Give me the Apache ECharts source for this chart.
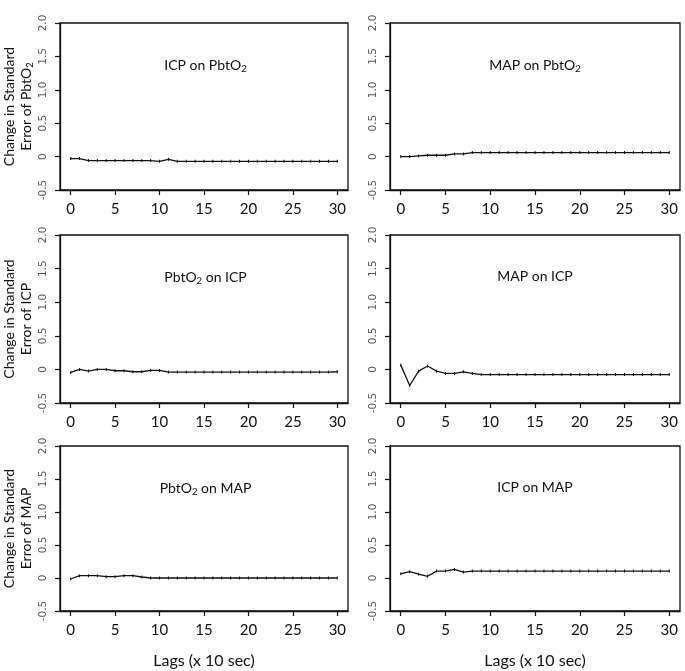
<!DOCTYPE html>
<html>
<head>
<meta charset="utf-8">
<script src="https://cdn.jsdelivr.net/npm/echarts@6/dist/echarts.min.js"></script>
<style>
  html, body { margin: 0; padding: 0; background: #fff; }
  #main { width: 685px; height: 671px; }
</style>
</head>
<body>
<div id="main"></div>
<script>
// lags 0..30 (x 10 sec)
const lags = Array.from({ length: 31 }, (_, i) => i);

const icpOnPbto2 = [-0.03, -0.03, -0.06, -0.06, -0.06, -0.06, -0.06, -0.06, -0.06, -0.06,
  -0.07, -0.04, -0.07, -0.07, -0.07, -0.07, -0.07, -0.07, -0.07, -0.07,
  -0.07, -0.07, -0.07, -0.07, -0.07, -0.07, -0.07, -0.07, -0.07, -0.07, -0.07];
const mapOnPbto2 = [0.0, 0.0, 0.01, 0.02, 0.02, 0.02, 0.04, 0.04, 0.06, 0.06,
  0.06, 0.06, 0.06, 0.06, 0.06, 0.06, 0.06, 0.06, 0.06, 0.06,
  0.06, 0.06, 0.06, 0.06, 0.06, 0.06, 0.06, 0.06, 0.06, 0.06, 0.06];
const pbto2OnIcp = [-0.045, 0.0, -0.025, 0.0, 0.0, -0.02, -0.02, -0.035, -0.035, -0.015,
  -0.015, -0.04, -0.04, -0.04, -0.04, -0.04, -0.04, -0.04, -0.04, -0.04,
  -0.04, -0.04, -0.04, -0.04, -0.04, -0.04, -0.04, -0.04, -0.04, -0.04, -0.035];
const mapOnIcp = [0.067, -0.24, -0.026, 0.05, -0.026, -0.06, -0.06, -0.036, -0.06, -0.077,
  -0.077, -0.077, -0.077, -0.077, -0.077, -0.077, -0.077, -0.077, -0.077, -0.077,
  -0.077, -0.077, -0.077, -0.077, -0.077, -0.077, -0.077, -0.077, -0.077, -0.077, -0.077];
const pbto2OnMap = [-0.015, 0.035, 0.035, 0.035, 0.02, 0.02, 0.035, 0.035, 0.015, 0.0,
  0.0, 0.0, 0.0, 0.0, 0.0, 0.0, 0.0, 0.0, 0.0, 0.0,
  0.0, 0.0, 0.0, 0.0, 0.0, 0.0, 0.0, 0.0, 0.0, 0.0, 0.0];
const icpOnMap = [0.063, 0.095, 0.058, 0.026, 0.105, 0.105, 0.13, 0.09, 0.105, 0.105,
  0.105, 0.105, 0.105, 0.105, 0.105, 0.105, 0.105, 0.105, 0.105, 0.105,
  0.105, 0.105, 0.105, 0.105, 0.105, 0.105, 0.105, 0.105, 0.105, 0.105, 0.105];

const xTicks = [0, 5, 10, 15, 20, 25, 30];
const yTicks = [-0.5, 0, 0.5, 1.0, 1.5, 2.0];

const panelTitles = ['ICP on PbtO{s|2}', 'MAP on PbtO{s|2}', 'PbtO{s|2} on ICP',
  'MAP on ICP', 'PbtO{s|2} on MAP', 'ICP on MAP'];
const yNames = ['Change in Standard\nError of PbtO{s|2}', null,
  'Change in Standard\nError of ICP', null,
  'Change in Standard\nError of MAP', null];
const panelData = [icpOnPbto2, mapOnPbto2, pbto2OnIcp, mapOnIcp, pbto2OnMap, icpOnMap];
const xName = 'Lags (x 10 sec)';

const FONT = 'Lato';
const cols = [{ left: 59, width: 289 }, { left: 390, width: 290 }];
const rows = [{ top: 23, height: 167 }, { top: 235, height: 168 }, { top: 446, height: 165 }];

const sub = { fontSize: 9.5, fontFamily: FONT, color: '#111', padding: [7, 0, 0, 0] };
const axisColor = '#111';

const grid = [], xAxis = [], yAxis = [], series = [], title = [];
panelData.forEach((d, i) => {
  const c = cols[i % 2], r = rows[Math.floor(i / 2)];
  grid.push({
    left: c.left, top: r.top, width: c.width, height: r.height,
    show: true, borderColor: axisColor, borderWidth: 1.3
  });
  xAxis.push({
    type: 'value', gridIndex: i, min: -1.2, max: 31.2,
    splitLine: { show: false },
    axisLine: { show: true, onZero: false, lineStyle: { color: axisColor, width: 1.3 } },
    axisTick: { show: true, length: 5, inside: false, customValues: xTicks, lineStyle: { color: axisColor, width: 1.2 } },
    axisLabel: { customValues: xTicks, margin: 12, fontSize: 15, fontFamily: FONT, color: '#111' },
    name: i >= 4 ? xName : '',
    nameLocation: 'middle', nameGap: 42,
    nameTextStyle: { fontSize: 16, fontFamily: FONT, color: '#111' }
  });
  yAxis.push({
    type: 'value', gridIndex: i, min: -0.5, max: 2.0,
    splitLine: { show: false },
    axisLine: { show: true, onZero: false, lineStyle: { color: axisColor, width: 1.3 } },
    axisTick: { show: true, length: 5, customValues: yTicks, lineStyle: { color: axisColor, width: 1.2 } },
    axisLabel: {
      customValues: yTicks, rotate: 90, margin: 11, fontSize: 10.5,
      fontFamily: 'DejaVu Sans', color: '#555',
      formatter: v => (v === 0 ? '0' : v.toFixed(1))
    },
    name: yNames[i] || '',
    nameLocation: 'middle', nameRotate: 90, nameGap: 25,
    nameTextStyle: { fontSize: 14, fontFamily: FONT, color: '#111', lineHeight: 17, rich: { s: sub } }
  });
  series.push({
    type: 'line', xAxisIndex: i, yAxisIndex: i,
    data: lags.map((x, k) => [x, d[k]]),
    symbol: 'rect', symbolSize: [1, 3], showSymbol: true,
    itemStyle: { color: '#111' },
    lineStyle: { color: '#111', width: 1.3 },
    animation: false
  });
  title.push({
    text: panelTitles[i],
    left: c.left + c.width / 2 + (i % 2 === 0 ? -3 : -5), top: r.top + 29,
    textAlign: 'center',
    textStyle: { fontSize: 14, fontWeight: 'normal', fontFamily: FONT, color: '#111', rich: { s: sub } }
  });
});

const chart = echarts.init(document.getElementById('main'));
chart.setOption({ animation: false, title, grid, xAxis, yAxis, series });
</script>
</body>
</html>
